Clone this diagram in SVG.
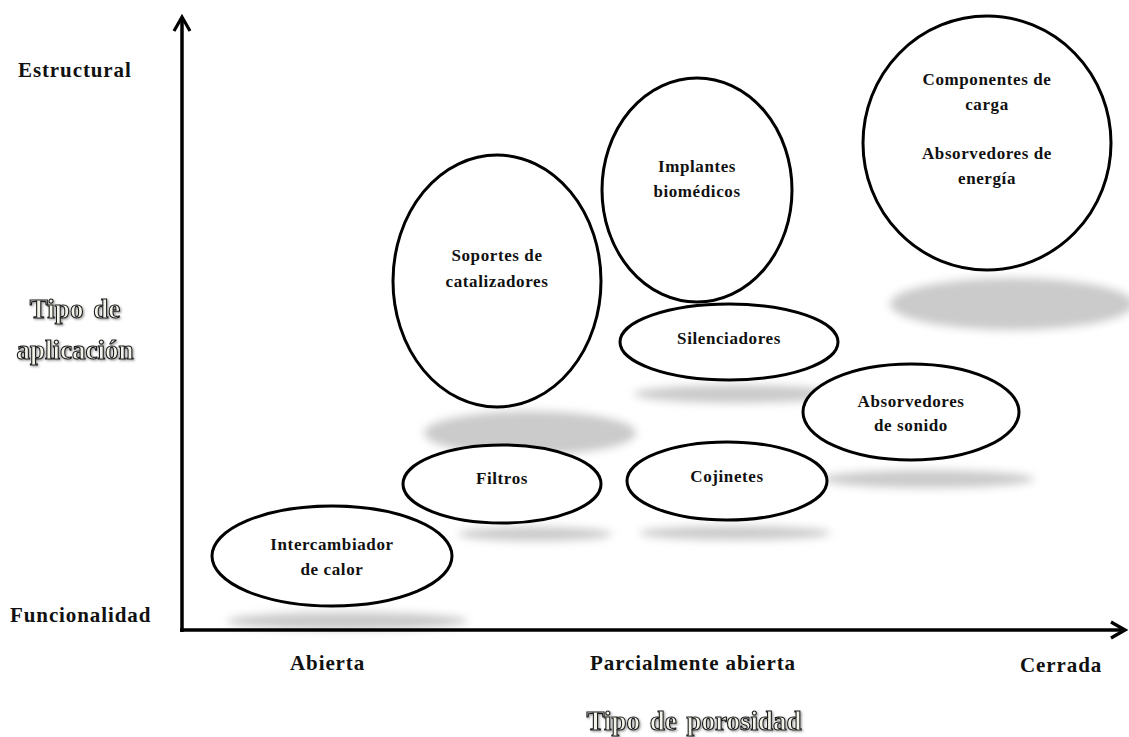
<svg xmlns="http://www.w3.org/2000/svg" width="1129" height="737" viewBox="0 0 1129 737">
  <defs>
    <filter id="soft" x="-30%" y="-100%" width="160%" height="300%">
      <feGaussianBlur stdDeviation="4"/>
    </filter>
    <filter id="emboss" x="-10%" y="-30%" width="120%" height="160%">
      <feDropShadow dx="1.2" dy="1.2" stdDeviation="0.8" flood-color="#555" flood-opacity="0.6"/>
    </filter>
    <marker id="open-arrow" viewBox="0 0 20 20" refX="17" refY="10" markerWidth="20" markerHeight="20" markerUnits="userSpaceOnUse" orient="auto">
      <path d="M3,2 L17,10 L3,18" fill="none" stroke="#000" stroke-width="3.2" stroke-linejoin="miter"/>
    </marker>
    <style>
      .shadow { fill: #cbcbcb; filter: url(#soft); }
      .node { fill: #fff; stroke: #000; stroke-width: 3; }
      .lbl { font-family: "Liberation Serif", "Times New Roman", serif; font-weight: bold; font-size: 17px; letter-spacing: 0.6px; fill: #111; text-anchor: middle; }
      .axis-lbl { font-family: "Liberation Serif", "Times New Roman", serif; font-weight: bold; font-size: 21px; letter-spacing: 0.9px; fill: #111; }
      .title { font-family: "Liberation Serif", "Times New Roman", serif; font-weight: bold; font-size: 27px; word-spacing: 3px; fill: #f3f3ea; stroke: #1a1a1a; stroke-width: 1.1; text-anchor: middle; filter: url(#emboss); }
      .axis { stroke: #000; stroke-width: 3.5; fill: none; }
    </style>
  </defs>

  <rect width="1129" height="737" fill="#fff"/>

  <!-- ground shadows beneath each bubble -->
  <g id="shadows">
    <ellipse class="shadow" cx="347" cy="621" rx="120" ry="9"/>
    <ellipse class="shadow" cx="530" cy="433" rx="106" ry="22"/>
    <ellipse class="shadow" cx="535" cy="534" rx="77" ry="7"/>
    <ellipse class="shadow" cx="738" cy="394" rx="104" ry="9"/>
    <ellipse class="shadow" cx="735" cy="533" rx="96" ry="7"/>
    <ellipse class="shadow" cx="928" cy="479" rx="106" ry="9"/>
    <ellipse class="shadow" cx="1012" cy="304" rx="122" ry="26"/>
  </g>

  <!-- axes -->
  <g id="connectors">
    <line class="axis" x1="182" y1="632" x2="182" y2="17" marker-end="url(#open-arrow)"/>
    <line class="axis" x1="180" y1="630" x2="1125" y2="630" marker-end="url(#open-arrow)"/>
  </g>

  <!-- axis labels -->
  <g id="axis-labels">
    <text class="axis-lbl" x="18" y="77" letter-spacing="1.4">Estructural</text>
    <text class="axis-lbl" x="10" y="622">Funcionalidad</text>
    <text class="axis-lbl" x="290" y="670">Abierta</text>
    <text class="axis-lbl" x="590" y="670">Parcialmente abierta</text>
    <text class="axis-lbl" x="1020" y="672">Cerrada</text>
    <text class="title" x="75" y="318">Tipo de</text>
    <text class="title" x="75" y="359">aplicación</text>
    <text class="title" x="694" y="730">Tipo de porosidad</text>
  </g>

  <g id="node-intercambiador">
    <ellipse class="node" cx="332" cy="556" rx="120" ry="50"/>
    <text class="lbl" x="332" y="550">Intercambiador</text>
    <text class="lbl" x="332" y="575">de calor</text>
  </g>

  <g id="node-soportes">
    <ellipse class="node" cx="497" cy="281" rx="104" ry="126"/>
    <text class="lbl" x="497" y="261">Soportes de</text>
    <text class="lbl" x="497" y="287">catalizadores</text>
  </g>

  <g id="node-filtros">
    <ellipse class="node" cx="502" cy="484" rx="99" ry="39"/>
    <text class="lbl" x="502" y="484">Filtros</text>
  </g>

  <g id="node-implantes">
    <ellipse class="node" cx="697" cy="190" rx="95" ry="112"/>
    <text class="lbl" x="697" y="172">Implantes</text>
    <text class="lbl" x="697" y="197">biomédicos</text>
  </g>

  <g id="node-silenciadores">
    <ellipse class="node" cx="729" cy="342" rx="109" ry="38"/>
    <text class="lbl" x="729" y="344">Silenciadores</text>
  </g>

  <g id="node-cojinetes">
    <ellipse class="node" cx="727" cy="481" rx="100" ry="39"/>
    <text class="lbl" x="727" y="482">Cojinetes</text>
  </g>

  <g id="node-absorvedores-sonido">
    <ellipse class="node" cx="911" cy="412" rx="108" ry="48"/>
    <text class="lbl" x="911" y="407">Absorvedores</text>
    <text class="lbl" x="911" y="431">de sonido</text>
  </g>

  <g id="node-componentes">
    <ellipse class="node" cx="987" cy="143" rx="124" ry="127"/>
    <text class="lbl" x="987" y="85">Componentes de</text>
    <text class="lbl" x="987" y="110">carga</text>
    <text class="lbl" x="987" y="159">Absorvedores de</text>
    <text class="lbl" x="987" y="184">energía</text>
  </g>
</svg>
